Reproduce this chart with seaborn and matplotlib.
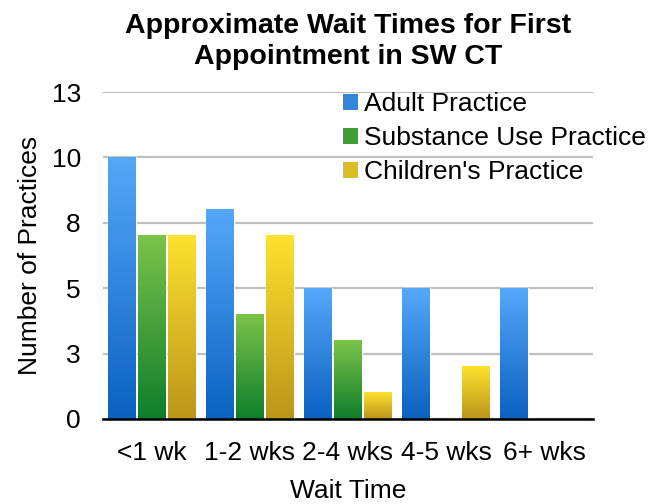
import matplotlib
matplotlib.use("Agg")
import matplotlib.pyplot as plt
import numpy as np
import pandas as pd
import seaborn as sns
from matplotlib.colors import LinearSegmentedColormap
from matplotlib.patches import Patch

# data
wait_times = ["<1 wk", "1-2 wks", "2-4 wks", "4-5 wks", "6+ wks"]
practices = ["Adult Practice", "Substance Use Practice", "Children's Practice"]
adult = [10, 8, 5, 5, 5]
substance = [7, 4, 3, 0, 0]
children = [7, 7, 1, 2, 0]
y_ticks = [0, 2.5, 5, 7.5, 10, 12.5]
y_tick_labels = ["0", "3", "5", "8", "10", "13"]

# gradient colours (top / bottom) for each series, plus a flat colour for the legend
top_colors = ["#55a8f8", "#7cc34a", "#fde22e"]
bottom_colors = ["#0a61c0", "#0e7e2b", "#bb951a"]
flat_colors = ["#3384dc", "#3f9d38", "#dcbb24"]

df = pd.DataFrame({
    "wait": wait_times * 3,
    "count": adult + substance + children,
    "practice": [p for p in practices for _ in wait_times],
})

sns.set_style("white")
plt.rcParams["font.family"] = ["Liberation Sans", "DejaVu Sans"]
plt.rcParams["text.color"] = "black"
plt.rcParams["axes.labelcolor"] = "black"
plt.rcParams["xtick.color"] = "black"
plt.rcParams["ytick.color"] = "black"

fig = plt.figure(figsize=(6.62, 5.04), dpi=100)
ax = fig.add_axes([103 / 662, 85 / 504, 490 / 662, 327 / 504])

sns.barplot(
    data=df, x="wait", y="count", hue="practice",
    order=wait_times, hue_order=practices, palette=flat_colors,
    width=0.92, gap=0.07, legend=False, ax=ax, zorder=2,
)

# paint each bar with a vertical gradient, light at the top
grad = np.linspace(0, 1, 256)[:, None]
for container, top, bottom in zip(ax.containers, top_colors, bottom_colors):
    cmap = LinearSegmentedColormap.from_list("g", [bottom, top])
    for bar in container:
        h = bar.get_height()
        if h <= 0:
            continue
        x0, w = bar.get_x(), bar.get_width()
        ax.imshow(grad, cmap=cmap, extent=[x0, x0 + w, 0, h], origin="lower",
                  aspect="auto", interpolation="bicubic", zorder=3)

ax.set_xlim(-0.5, 4.5)
ax.set_ylim(0, 12.5)
ax.set_yticks(y_ticks)
ax.set_yticklabels(y_tick_labels)
ax.yaxis.grid(True, color="#bfbfbf", linewidth=1.6)
ax.xaxis.grid(False)
ax.set_axisbelow(True)
ax.tick_params(axis="both", length=0, labelsize=19, labelcolor="black")
ax.tick_params(axis="x", pad=16)
ax.tick_params(axis="y", pad=16)

for side in ["left", "top", "right"]:
    ax.spines[side].set_visible(False)
ax.spines["bottom"].set_color("black")
ax.spines["bottom"].set_linewidth(1.8)
ax.spines["bottom"].set_zorder(4)

ax.set_xlabel("Wait Time", fontsize=19, color="black")
ax.set_ylabel("Number of Practices", fontsize=19, color="black")
ax.xaxis.set_label_coords(0.5, -0.182)
ax.yaxis.set_label_coords(-0.124, 0.5)

ax.set_title("Approximate Wait Times for First\nAppointment in SW CT",
             fontsize=20.5, fontweight="bold", pad=20, linespacing=1.25,
             color="black")

handles = [Patch(facecolor=c, edgecolor="none") for c in flat_colors]
ax.legend(handles, practices, loc="upper left", frameon=False, fontsize=19,
          bbox_to_anchor=(343 / 662, 1 - 92 / 504), bbox_transform=fig.transFigure,
          borderpad=0, borderaxespad=0, handlelength=0.55, handleheight=0.55,
          handletextpad=0.25, labelspacing=0.38)

fig.savefig("out.png", dpi=100)
